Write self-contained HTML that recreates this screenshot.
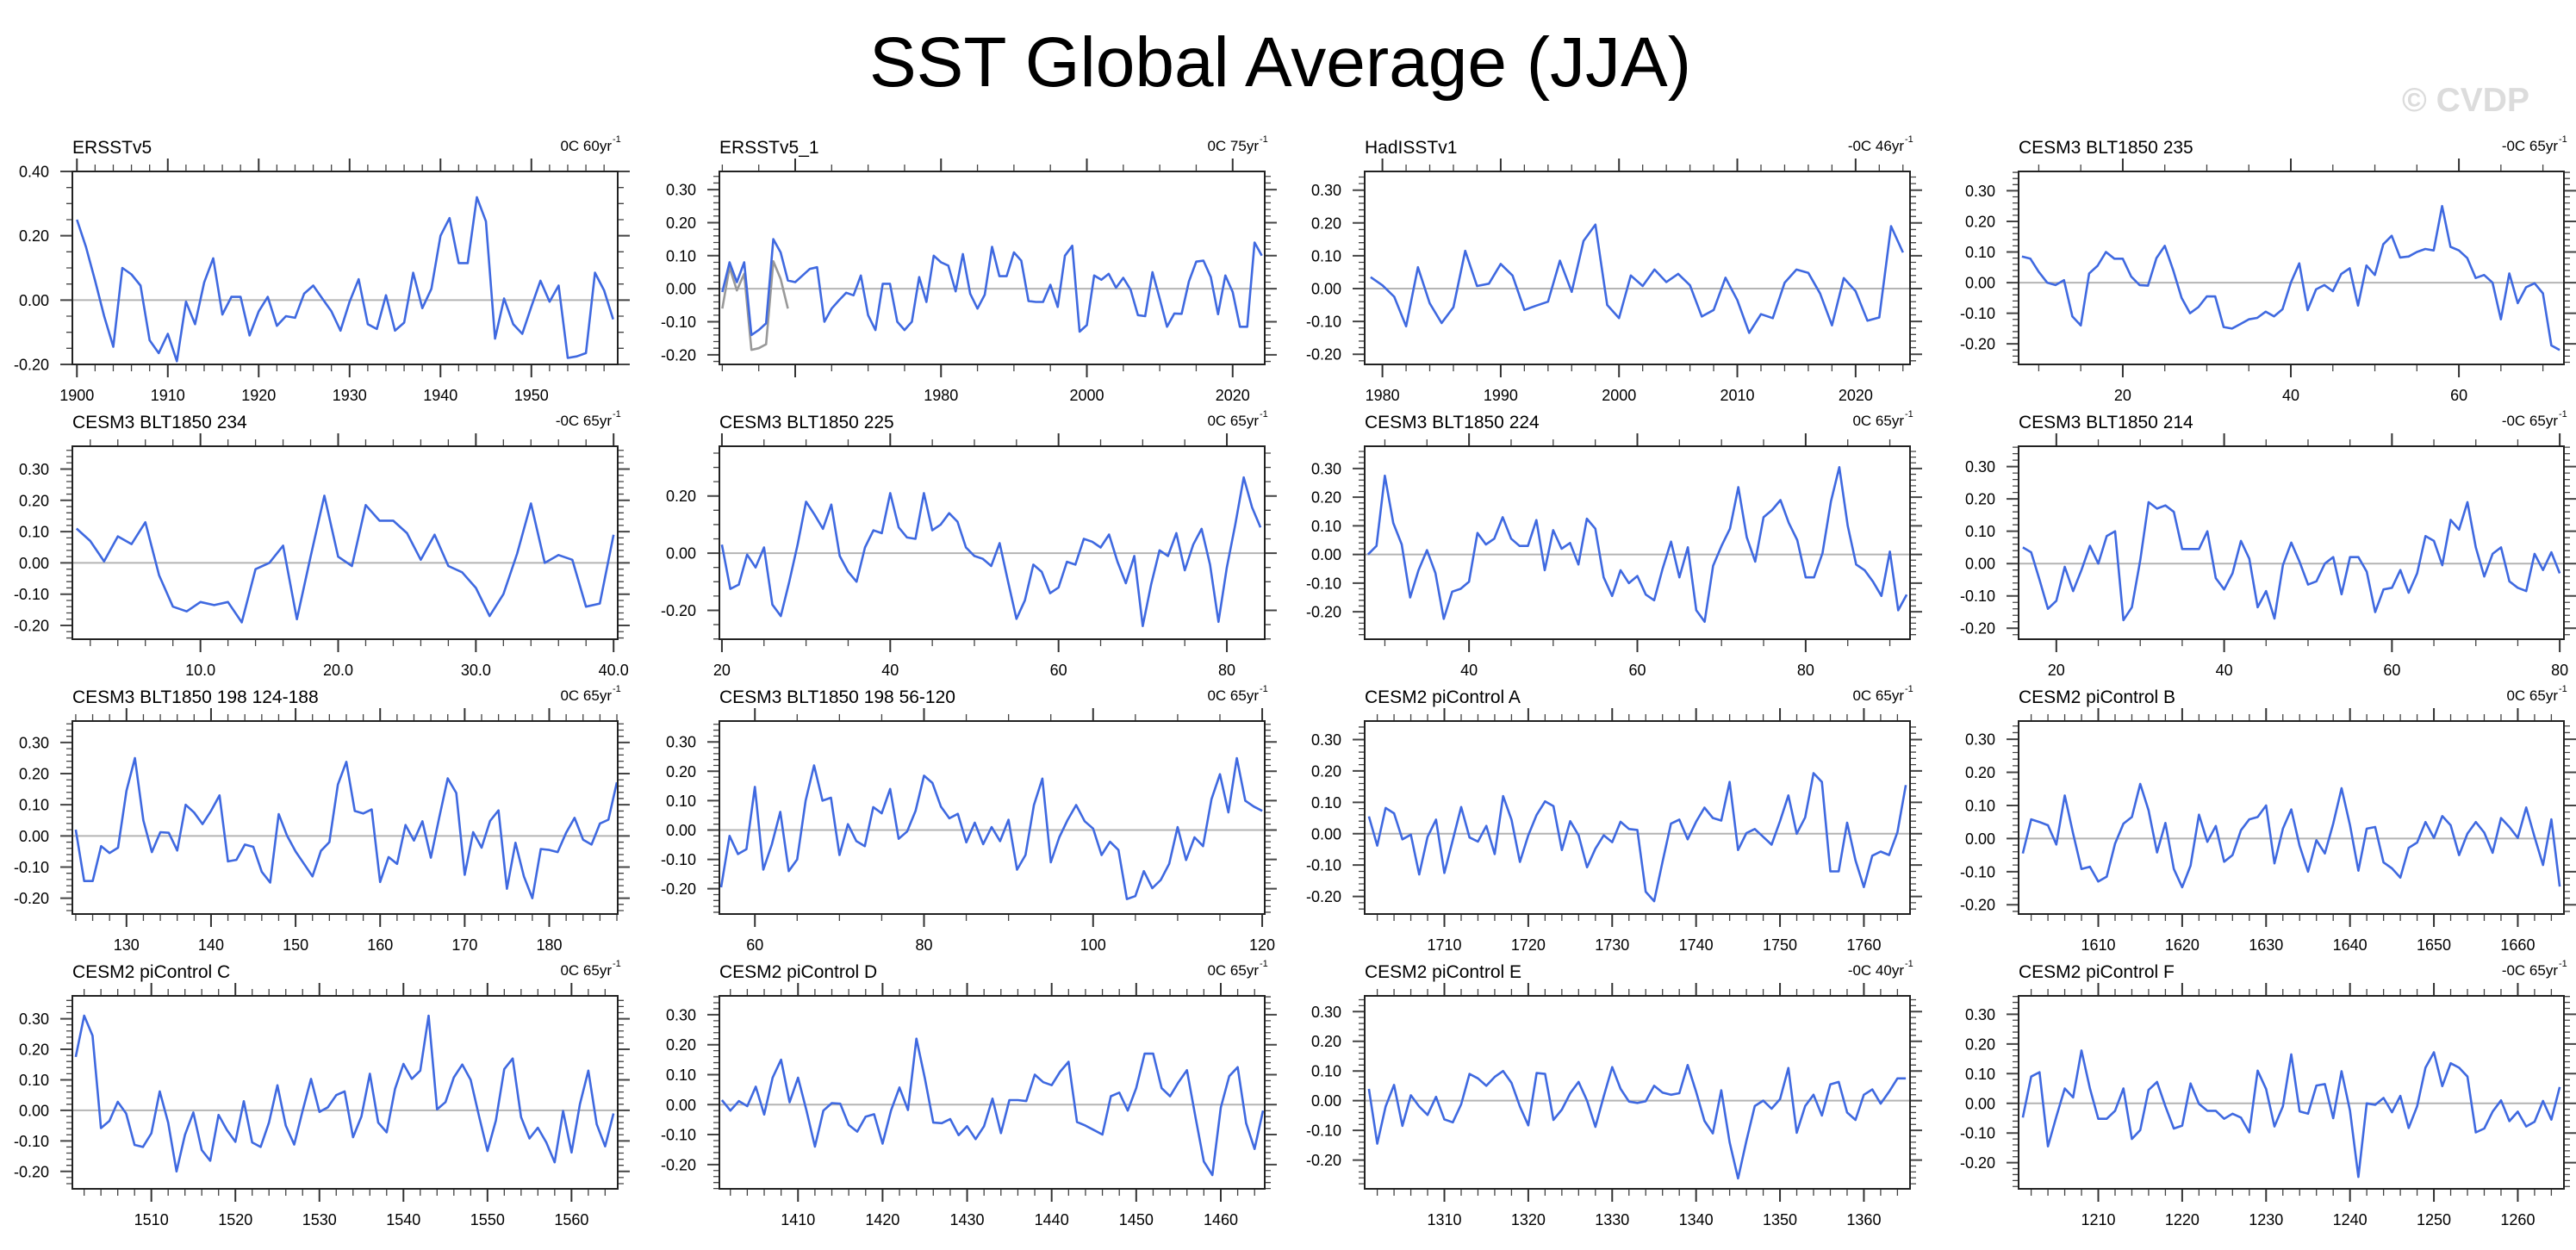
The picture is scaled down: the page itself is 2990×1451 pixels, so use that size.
<!DOCTYPE html>
<html><head><meta charset="utf-8">
<style>
html,body{margin:0;padding:0;background:#fff;}
svg{display:block;font-family:"Liberation Sans",Arial,sans-serif;}
</style></head>
<body>
<svg id="chart" width="2990" height="1451" viewBox="0 0 2990 1451" xmlns="http://www.w3.org/2000/svg">
<rect x="0" y="0" width="2990" height="1451" fill="#fff"/>
<text x="1486" y="100" font-size="82" text-anchor="middle" fill="#000">SST Global Average (JJA)</text>
<text x="2862" y="129" font-size="39" font-weight="bold" text-anchor="middle" fill="#dcdcdc">© CVDP</text>
<g id="panels"></g>
</svg>
<script>
// ---- data arrays ----
const titles = ["ERSSTv5","ERSSTv5_1","HadISSTv1","CESM3 BLT1850 235","CESM3 BLT1850 234","CESM3 BLT1850 225","CESM3 BLT1850 224","CESM3 BLT1850 214","CESM3 BLT1850 198 124-188","CESM3 BLT1850 198 56-120","CESM2 piControl A","CESM2 piControl B","CESM2 piControl C","CESM2 piControl D","CESM2 piControl E","CESM2 piControl F"];
const trendLabels = ["0C 60yr","0C 75yr","-0C 46yr","-0C 65yr","-0C 65yr","0C 65yr","0C 65yr","-0C 65yr","0C 65yr","0C 65yr","0C 65yr","0C 65yr","0C 65yr","0C 65yr","-0C 40yr","-0C 65yr"];
const startYears = [1900,1950,1979,8,1,20,28,16,124,56,1701,1601,1501,1401,1301,1201];
const xLo = [1899.5,1949.6,1978.5,7.6,0.7,19.7,27.6,15.5,123.6,55.8,1700.5,1600.5,1500.6,1400.7,1300.5,1200.5];
const xHi = [1959.5,2024.4,2024.6,72.5,40.3,84.5,92.4,80.5,188.1,120.3,1765.5,1665.5,1565.5,1465.2,1365.5,1265.5];
const yLo = [-0.2,-0.229,-0.231,-0.267,-0.244,-0.301,-0.296,-0.234,-0.251,-0.286,-0.256,-0.228,-0.257,-0.281,-0.297,-0.288];
const yHi = [0.4,0.355,0.357,0.363,0.373,0.374,0.378,0.363,0.369,0.371,0.359,0.355,0.375,0.363,0.353,0.362];
const xMajorTicks = [
 [1900,1910,1920,1930,1940,1950],[1960,1980,2000,2020],[1980,1990,2000,2010,2020],[20,40,60],
 [10,20,30,40],[20,40,60,80],[40,60,80],[20,40,60,80],
 [130,140,150,160,170,180],[60,80,100,120],[1710,1720,1730,1740,1750,1760],[1610,1620,1630,1640,1650,1660],
 [1510,1520,1530,1540,1550,1560],[1410,1420,1430,1440,1450,1460],[1310,1320,1330,1340,1350,1360],[1210,1220,1230,1240,1250,1260]];
const xTickLabels = [
 ["1900","1910","1920","1930","1940","1950"],["","1980","2000","2020"],["1980","1990","2000","2010","2020"],["20","40","60"],
 ["10.0","20.0","30.0","40.0"],["20","40","60","80"],["40","60","80"],["20","40","60","80"],
 ["130","140","150","160","170","180"],["60","80","100","120"],["1710","1720","1730","1740","1750","1760"],["1610","1620","1630","1640","1650","1660"],
 ["1510","1520","1530","1540","1550","1560"],["1410","1420","1430","1440","1450","1460"],["1310","1320","1330","1340","1350","1360"],["1210","1220","1230","1240","1250","1260"]];
const xMinorStep = [2,5,2,5,2,5,5,5,2,5,2,2,2,2,2,2];
const yLabelStep = [0.2,0.1,0.1,0.1,0.1,0.2,0.1,0.1,0.1,0.1,0.1,0.1,0.1,0.1,0.1,0.1];
const yMinorStep = [0.05,0.02,0.02,0.02,0.02,0.05,0.02,0.02,0.02,0.02,0.02,0.02,0.02,0.02,0.02,0.02];

const valuesERSSTv5 = [0.25,0.165,0.06,-0.05,-0.145,0.1,0.08,0.045,-0.125,-0.165,-0.105,-0.19,-0.005,-0.075,0.055,0.13,-0.045,0.01,0.01,-0.11,-0.035,0.01,-0.08,-0.05,-0.055,0.02,0.045,0.005,-0.035,-0.095,-0.005,0.065,-0.075,-0.09,0.015,-0.095,-0.07,0.085,-0.025,0.035,0.2,0.255,0.115,0.115,0.32,0.245,-0.12,0.005,-0.075,-0.105,-0.02,0.06,-0.005,0.045,-0.18,-0.175,-0.165,0.085,0.03,-0.06];
const valuesERSSTv5_1 = [-0.01,0.08,0.02,0.08,-0.14,-0.125,-0.105,0.15,0.11,0.025,0.02,0.04,0.06,0.065,-0.1,-0.06,-0.035,-0.012,-0.02,0.04,-0.08,-0.125,0.015,0.015,-0.1,-0.125,-0.1,0.035,-0.04,0.1,0.08,0.07,-0.008,0.105,-0.015,-0.06,-0.018,0.127,0.038,0.038,0.11,0.085,-0.037,-0.04,-0.04,0.012,-0.055,0.1,0.13,-0.13,-0.11,0.04,0.027,0.045,0.003,0.033,-0.003,-0.08,-0.083,0.05,-0.03,-0.115,-0.075,-0.076,0.022,0.082,0.085,0.035,-0.077,0.04,-0.01,-0.115,-0.115,0.14,0.1];
const valuesERSSTv5_1Other = [-0.06,0.065,-0.005,0.045,-0.185,-0.18,-0.168,0.083,0.03,-0.06];
const valuesHadISST = [0.035,0.01,-0.025,-0.115,0.065,-0.045,-0.105,-0.057,0.115,0.008,0.015,0.075,0.04,-0.065,-0.052,-0.04,0.085,-0.01,0.145,0.195,-0.05,-0.09,0.04,0.008,0.058,0.02,0.045,0.01,-0.085,-0.065,0.033,-0.035,-0.135,-0.078,-0.09,0.018,0.058,0.048,-0.015,-0.112,0.032,-0.008,-0.098,-0.088,0.19,0.11];
const values235 = [0.085,0.078,0.035,0.0,-0.008,0.008,-0.11,-0.14,0.03,0.055,0.1,0.078,0.078,0.02,-0.008,-0.01,0.08,0.12,0.04,-0.05,-0.1,-0.08,-0.045,-0.045,-0.145,-0.15,-0.135,-0.12,-0.115,-0.095,-0.11,-0.087,0.0,0.063,-0.09,-0.022,-0.008,-0.028,0.028,0.047,-0.075,0.056,0.025,0.125,0.153,0.082,0.085,0.1,0.11,0.105,0.25,0.117,0.105,0.08,0.015,0.025,0.0,-0.12,0.03,-0.067,-0.015,-0.002,-0.035,-0.205,-0.22];
const values234 = [0.11,0.07,0.005,0.085,0.06,0.13,-0.04,-0.14,-0.155,-0.125,-0.135,-0.125,-0.19,-0.02,0.0,0.055,-0.18,0.02,0.215,0.02,-0.01,0.185,0.135,0.135,0.095,0.01,0.09,-0.01,-0.03,-0.08,-0.17,-0.1,0.03,0.19,0.0,0.025,0.01,-0.14,-0.13,0.09];
const values225 = [0.03,-0.125,-0.11,-0.005,-0.05,0.02,-0.18,-0.22,-0.1,0.03,0.18,0.135,0.085,0.17,-0.01,-0.065,-0.1,0.02,0.08,0.07,0.21,0.09,0.055,0.05,0.21,0.08,0.1,0.14,0.11,0.02,-0.01,-0.02,-0.045,0.035,-0.1,-0.23,-0.165,-0.04,-0.065,-0.14,-0.12,-0.03,-0.04,0.05,0.04,0.02,0.065,-0.03,-0.105,-0.01,-0.255,-0.11,0.01,-0.01,0.07,-0.06,0.03,0.085,-0.04,-0.24,-0.05,0.1,0.265,0.16,0.09];
const values224 = [0.0,0.03,0.275,0.11,0.035,-0.15,-0.055,0.015,-0.065,-0.225,-0.13,-0.12,-0.095,0.075,0.035,0.055,0.13,0.055,0.03,0.03,0.12,-0.055,0.085,0.02,0.04,-0.035,0.125,0.09,-0.08,-0.145,-0.055,-0.1,-0.075,-0.14,-0.16,-0.05,0.045,-0.08,0.025,-0.195,-0.235,-0.04,0.03,0.09,0.235,0.06,-0.025,0.13,0.155,0.19,0.11,0.05,-0.08,-0.08,0.005,0.185,0.305,0.1,-0.035,-0.055,-0.095,-0.145,0.01,-0.195,-0.14];
const values214 = [0.05,0.035,-0.05,-0.14,-0.115,-0.01,-0.085,-0.02,0.055,0.0,0.085,0.1,-0.175,-0.135,0.01,0.19,0.17,0.18,0.16,0.045,0.045,0.045,0.1,-0.045,-0.08,-0.03,0.07,0.015,-0.135,-0.085,-0.17,-0.005,0.065,0.005,-0.065,-0.055,0.0,0.02,-0.095,0.02,0.02,-0.025,-0.15,-0.08,-0.075,-0.02,-0.09,-0.03,0.085,0.07,-0.005,0.135,0.105,0.19,0.05,-0.04,0.03,0.05,-0.055,-0.075,-0.085,0.03,-0.02,0.035,-0.03];
const values198a = [0.02,-0.145,-0.145,-0.033,-0.055,-0.038,0.145,0.25,0.05,-0.052,0.012,0.01,-0.047,0.1,0.075,0.038,0.08,0.13,-0.082,-0.077,-0.028,-0.035,-0.115,-0.15,0.07,0.0,-0.05,-0.09,-0.13,-0.048,-0.02,0.165,0.238,0.08,0.072,0.085,-0.148,-0.068,-0.09,0.035,-0.015,0.047,-0.07,0.06,0.185,0.138,-0.125,0.012,-0.038,0.048,0.082,-0.17,-0.022,-0.13,-0.2,-0.042,-0.045,-0.052,0.01,0.058,-0.012,-0.028,0.04,0.052,0.172];
const values198b = [-0.195,-0.02,-0.082,-0.065,0.147,-0.135,-0.05,0.062,-0.14,-0.1,0.1,0.22,0.1,0.11,-0.085,0.02,-0.038,-0.055,0.078,0.057,0.14,-0.03,-0.005,0.065,0.185,0.16,0.08,0.04,0.055,-0.042,0.025,-0.048,0.01,-0.038,0.035,-0.135,-0.085,0.085,0.175,-0.11,-0.025,0.035,0.085,0.03,0.005,-0.085,-0.04,-0.068,-0.235,-0.225,-0.14,-0.198,-0.17,-0.115,0.01,-0.102,-0.025,-0.055,0.105,0.19,0.06,0.245,0.1,0.08,0.065];
const valuesPiA = [0.055,-0.038,0.082,0.065,-0.018,-0.003,-0.13,-0.01,0.045,-0.125,-0.02,0.085,-0.012,-0.025,0.025,-0.065,0.12,0.045,-0.09,-0.005,0.06,0.103,0.088,-0.052,0.04,-0.005,-0.107,-0.048,-0.005,-0.027,0.038,0.015,0.012,-0.185,-0.215,-0.09,0.032,0.045,-0.018,0.038,0.083,0.05,0.042,0.165,-0.052,0.002,0.015,-0.01,-0.035,0.04,0.122,0.0,0.052,0.193,0.165,-0.12,-0.12,0.035,-0.085,-0.17,-0.07,-0.057,-0.068,0.005,0.155];
const valuesPiB = [-0.045,0.058,0.05,0.04,-0.018,0.13,0.015,-0.092,-0.085,-0.13,-0.115,-0.015,0.045,0.065,0.165,0.085,-0.042,0.047,-0.092,-0.147,-0.082,0.072,-0.01,0.038,-0.07,-0.05,0.025,0.058,0.065,0.1,-0.075,0.03,0.088,-0.022,-0.1,-0.005,-0.045,0.045,0.152,0.04,-0.097,0.03,0.035,-0.072,-0.09,-0.118,-0.028,-0.012,0.05,0.002,0.068,0.04,-0.05,0.015,0.05,0.018,-0.043,0.062,0.035,0.002,0.094,0.005,-0.08,0.058,-0.145];
const valuesPiC = [0.175,0.31,0.245,-0.058,-0.035,0.028,-0.01,-0.113,-0.12,-0.075,0.062,-0.04,-0.2,-0.08,-0.007,-0.13,-0.165,-0.015,-0.065,-0.103,0.03,-0.105,-0.12,-0.04,0.082,-0.05,-0.112,-0.002,0.103,-0.005,0.01,0.05,0.062,-0.088,-0.02,0.12,-0.04,-0.072,0.07,0.152,0.103,0.13,0.31,0.003,0.027,0.108,0.15,0.1,-0.02,-0.133,-0.033,0.135,0.17,-0.022,-0.092,-0.057,-0.105,-0.17,-0.002,-0.138,0.02,0.13,-0.045,-0.118,-0.01];
const valuesPiD = [0.015,-0.02,0.012,-0.005,0.06,-0.033,0.09,0.15,0.008,0.09,-0.02,-0.14,-0.02,0.005,0.003,-0.068,-0.09,-0.04,-0.032,-0.13,-0.02,0.057,-0.018,0.22,0.088,-0.06,-0.062,-0.048,-0.102,-0.072,-0.115,-0.072,0.02,-0.095,0.015,0.015,0.012,0.1,0.075,0.065,0.11,0.143,-0.058,-0.07,-0.085,-0.1,0.028,0.04,-0.02,0.055,0.17,0.17,0.055,0.028,0.075,0.115,-0.04,-0.19,-0.235,-0.01,0.095,0.125,-0.062,-0.148,-0.02];
const valuesPiE = [0.04,-0.145,-0.02,0.053,-0.085,0.018,-0.02,-0.048,0.013,-0.063,-0.073,-0.012,0.09,0.075,0.05,0.08,0.1,0.06,-0.02,-0.083,0.093,0.09,-0.065,-0.03,0.025,0.063,0.0,-0.088,0.015,0.113,0.04,-0.003,-0.008,-0.002,0.05,0.027,0.02,0.025,0.12,0.03,-0.068,-0.11,0.035,-0.14,-0.262,-0.135,-0.018,0.0,-0.027,0.005,0.11,-0.108,-0.018,0.02,-0.05,0.055,0.063,-0.04,-0.065,0.02,0.038,-0.01,0.03,0.075,0.075];
const valuesPiF = [-0.048,0.09,0.105,-0.145,-0.045,0.05,0.02,0.178,0.05,-0.052,-0.052,-0.025,0.05,-0.12,-0.09,0.045,0.072,-0.01,-0.085,-0.075,0.067,-0.002,-0.025,-0.025,-0.052,-0.035,-0.048,-0.098,0.11,0.048,-0.078,-0.01,0.165,-0.027,-0.035,0.06,0.065,-0.05,0.108,-0.025,-0.248,0.0,-0.005,0.018,-0.03,0.025,-0.083,-0.01,0.12,0.172,0.058,0.135,0.12,0.09,-0.098,-0.085,-0.028,0.01,-0.06,-0.028,-0.078,-0.062,0.008,-0.055,0.055];
const seriesValues = [valuesERSSTv5,valuesERSSTv5_1,valuesHadISST,values235,values234,values225,values224,values214,values198a,values198b,valuesPiA,valuesPiB,valuesPiC,valuesPiD,valuesPiE,valuesPiF];

// ---- layout ----
const NS = "http://www.w3.org/2000/svg";
const colLeft = [84, 835, 1584, 2343];
const rowTop = [199, 518, 837, 1156];
const PW = 633, PH = 224;
const root = document.getElementById('panels');

function mk(tag, attrs, parent) {
  const e = document.createElementNS(NS, tag);
  for (const k in attrs) e.setAttribute(k, attrs[k]);
  parent.appendChild(e);
  return e;
}
function fmtY(v) { return (Math.abs(v) < 1e-9 ? 0 : v).toFixed(2); }

for (let p = 0; p < 16; p++) {
  const L = colLeft[p % 4], T = rowTop[Math.floor(p / 4)];
  const R = L + PW, B = T + PH;
  const xs = v => L + (v - xLo[p]) / (xHi[p] - xLo[p]) * PW;
  const ys = v => B - (v - yLo[p]) / (yHi[p] - yLo[p]) * PH;
  const g = mk('g', {}, root);
  
  

  const t = mk('text', {x: L, y: T - 21, 'font-size': 21, fill: '#000'}, g);
  t.textContent = titles[p];
  
  

  const tr = mk('text', {x: R - 7, y: T - 24, 'font-size': 17, fill: '#000', 'text-anchor': 'end'}, g);
  tr.textContent = trendLabels[p];
  
  
  const sup = mk('text', {x: R - 6, y: T - 34, 'font-size': 11, fill: '#000'}, g);
  sup.textContent = '-1';
  
  

  // zero line
  const z = mk('line', {x1: L, x2: R, y1: ys(0), y2: ys(0), stroke: '#b4b4b4', 'stroke-width': 2}, g);
  
  

  // y ticks
  const ym = yMinorStep[p];
  for (let k = Math.ceil(yLo[p] / ym - 1e-6); k * ym <= yHi[p] + 1e-9; k++) {
    const v = k * ym, yy = ys(v);
    const isMaj = Math.abs(v / yLabelStep[p] - Math.round(v / yLabelStep[p])) < 1e-6;
    const len = isMaj ? 14 : 7;
    const tk = mk('path', {d: `M${L - len},${yy}H${L}M${R},${yy}H${R + len}`, stroke: '#444', 'stroke-width': isMaj ? 2 : 1.3}, g);
    
    
    if (isMaj) {
      const lb = mk('text', {x: L - 27, y: yy + 6.5, 'font-size': 18, 'text-anchor': 'end', fill: '#000'}, g);
      lb.textContent = fmtY(v);
      
      
    }
  }
  // x minor ticks
  const xm = xMinorStep[p];
  for (let k = Math.ceil(xLo[p] / xm); k * xm <= xHi[p]; k++) {
    const xx = xs(k * xm);
    const tk = mk('path', {d: `M${xx},${T - 8}V${T}M${xx},${B}V${B + 8}`, stroke: '#444', 'stroke-width': 1.3}, g);
    
    
  }
  // x major ticks + labels
  xMajorTicks[p].forEach((v, i) => {
    const xx = xs(v);
    const tk = mk('path', {d: `M${xx},${T - 15}V${T}M${xx},${B}V${B + 15}`, stroke: '#333', 'stroke-width': 2}, g);
    
    
    if (xTickLabels[p][i]) {
      const lb = mk('text', {x: xx, y: B + 42, 'font-size': 18, 'text-anchor': 'middle', fill: '#000'}, g);
      lb.textContent = xTickLabels[p][i];
      
      
    }
  });

  // secondary grey series (ERSSTv5_1 only)
  if (p === 1) {
    const pts = valuesERSSTv5_1Other.map((v, i) => xs(startYears[p] + i).toFixed(1) + ',' + ys(v).toFixed(1)).join(' ');
    const gl = mk('polyline', {points: pts, fill: 'none', stroke: '#999', 'stroke-width': 2.6, 'stroke-linejoin': 'round'}, g);
    
    
  }
  // series line
  const pts = seriesValues[p].map((v, i) => xs(startYears[p] + i).toFixed(1) + ',' + ys(v).toFixed(1)).join(' ');
  const ln = mk('polyline', {points: pts, fill: 'none', stroke: '#3f69e0', 'stroke-width': 2.6, 'stroke-linejoin': 'round'}, g);
  
  

  // frame
  const fr = mk('rect', {x: L, y: T, width: PW, height: PH, fill: 'none', stroke: '#222', 'stroke-width': 2}, g);
  
  
}
</script>
</body></html>
